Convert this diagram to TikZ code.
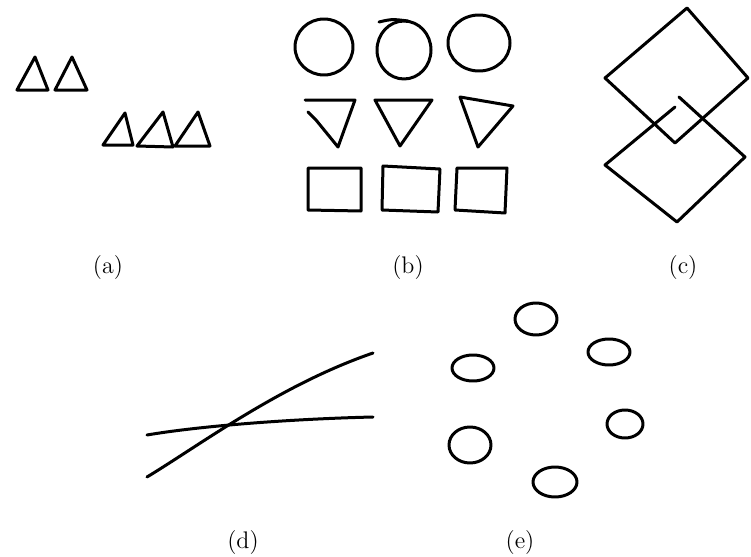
\documentclass[tikz,border=0pt]{standalone}
\begin{document}
\begin{tikzpicture}[x=0.5pt, y=-0.5pt,
    pen/.style={line width=1.5pt, line join=round, line cap=round},
    lab/.style={font=\large}]
    \useasboundingbox (0,0) rectangle (751,557);

    % (a) 接近: 两组三角形
    \draw[pen] (17,90) -- (35,57) -- (48,90) -- cycle;
    \draw[pen] (55,90) -- (72,57) -- (87,90) -- cycle;
    \draw[pen] (103,145) -- (125,113) -- (133,145) -- cycle;
    \draw[pen] (137,146) -- (163,112) -- (173,147) -- cycle;
    \draw[pen] (175,146) -- (198,112) -- (210,146) -- cycle;

    % (b) 相似: 圆, 倒三角, 方块
    \draw[pen] (324,47) ellipse (29 and 28);
    \draw[pen] (404,50) ellipse (27 and 29);
    \draw[pen] (379,22) .. controls (392,19) .. (408,21);
    \draw[pen] (479,43) ellipse (31 and 28);
    \draw[pen] (305,100) -- (355,100) -- (338,147) -- (316,120) -- (308,112);
    \draw[pen] (375,100) -- (432,100) -- (400,146) -- cycle;
    \draw[pen] (460,97) -- (513,106) -- (478,147) -- cycle;
    \draw[pen] (308,168) -- (361,168) -- (361,211) -- (308,210) -- cycle;
    \draw[pen] (383,166) -- (440,169) -- (438,212) -- (382,210) -- cycle;
    \draw[pen] (457,168) -- (507,168) -- (505,213) -- (455,210) -- cycle;

    % (c) 两个交叠的菱形
    \draw[pen] (687,8) -- (748,78) -- (675,143) -- (605,78) -- cycle;
    \draw[pen] (675,107) -- (605,165) -- (677,222) -- (745,157) -- (679,97);

    % (d) 连续: 两条交叉的线
    \draw[pen] (147,477) .. controls (200,445) and (280,385) .. (373,353);
    \draw[pen] (147,435) .. controls (200,426) and (290,419) .. (373,417);

    % (e) 闭合: 一圈小椭圆
    \draw[pen] (536,319) ellipse (21 and 16);
    \draw[pen] (609,352) ellipse (21 and 13);
    \draw[pen] (473,368) ellipse (21 and 13);
    \draw[pen] (625,424) ellipse (18 and 14);
    \draw[pen] (470,445) ellipse (21 and 18);
    \draw[pen] (555,482) ellipse (22 and 15);

    % 标注
    \node[lab] (la) at (108,268) {(a)};
    \node[lab] (lb) at (408,268) {(b)};
    \node[lab] (lc) at (683,268) {(c)};
    \node[lab] (ld) at (243,543) {(d)};
    \node[lab] (le) at (520,543) {(e)};
\end{tikzpicture}
\end{document}
